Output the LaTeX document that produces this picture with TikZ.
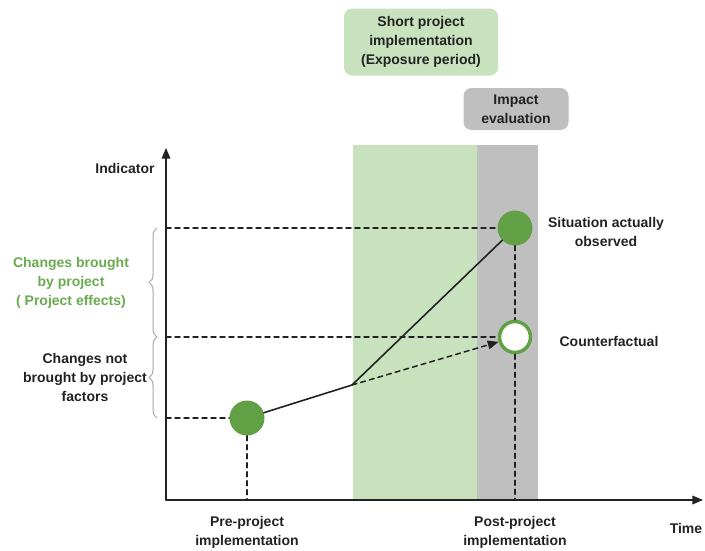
\documentclass[tikz,border=0pt]{standalone}
\usepackage{fontspec}
\setmainfont{Liberation Sans}
\usetikzlibrary{arrows,decorations.pathreplacing}
\definecolor{bandgreen}{RGB}{200,226,189}
\definecolor{bandgray}{RGB}{191,191,191}
\definecolor{dotgreen}{RGB}{98,160,70}
\definecolor{textgreen}{RGB}{106,170,80}
\definecolor{ink}{RGB}{34,34,34}

\begin{document}
\begin{tikzpicture}[line cap=round,line join=round,>=triangle 45,x=1pt,y=-1pt,
  lbl/.style={font=\bfseries\fontsize{14}{19}\selectfont,align=center,text=ink},
  periodbox/.style={lbl,rounded corners=8pt,inner sep=0pt},
  dot/.style={circle,fill=dotgreen,minimum size=35pt,inner sep=0pt},
  cfdot/.style={circle,draw=dotgreen,line width=3.5pt,fill=white,minimum size=31pt,inner sep=0pt},
  axis/.style={line width=1.5pt,ink},
  guide/.style={line width=1.5pt,ink,dash pattern=on 5pt off 4pt},
  brace/.style={decorate,decoration={brace,amplitude=8pt},gray!70,line width=1pt}]
\useasboundingbox (0,0) rectangle (705,550);
% periods
\fill[bandgreen] (353,145) rectangle (477,500);
\fill[bandgray] (477,145) rectangle (538,500);
\node[periodbox,fill=bandgreen,minimum width=154pt,minimum height=67pt] (expo) at (421,42) {Short project\\implementation\\(Exposure period)};
\node[periodbox,fill=bandgray,minimum width=105pt,minimum height=42pt] (eval) at (516,109) {Impact\\evaluation};
% axes
\coordinate (origin) at (166,500);
\coordinate (ytip) at (166,148);
\coordinate (xtip) at (703,500);
\draw[axis,->] (origin) -- (ytip);
\draw[axis,->] (origin) -- (xtip);
% points
\node[dot] (pre) at (247,418) {};
\node[dot] (obs) at (515,228) {};
\node[cfdot] (cf) at (515,337) {};
\coordinate (kink) at (352,385);
% guides
\draw[guide] (origin |- obs) -- (obs);
\draw[guide] (origin |- cf) -- (cf);
\draw[guide] (origin |- pre) -- (pre);
\draw[guide] (pre) -- (pre |- origin);
\draw[guide] (obs) -- (cf);
\draw[guide] (cf) -- (cf |- origin);
\draw[guide,->] (kink) -- (cf);
\draw[line width=1.6pt,ink] (pre) -- (kink) -- (obs);
% braces
\draw[brace] (157,337) -- (157,228);
\draw[brace] (157,418) -- (157,337);
% labels
\node[lbl] (ind) at (125,168) {Indicator};
\node[lbl,text=textgreen] (effects) at (71,283) {Changes brought\\by project\\( Project effects)};
\node[lbl] (other) at (85,377) {Changes not\\brought by project\\factors};
\node[lbl] (obslbl) at (606,232) {Situation actually\\observed};
\node[lbl] (cflbl) at (609,341) {Counterfactual};
\node[lbl] (prelbl) at (247,532) {Pre-project\\implementation};
\node[lbl] (postlbl) at (515,532) {Post-project\\implementation};
\node[lbl] (time) at (686,528) {Time};
\end{tikzpicture}
\end{document}
